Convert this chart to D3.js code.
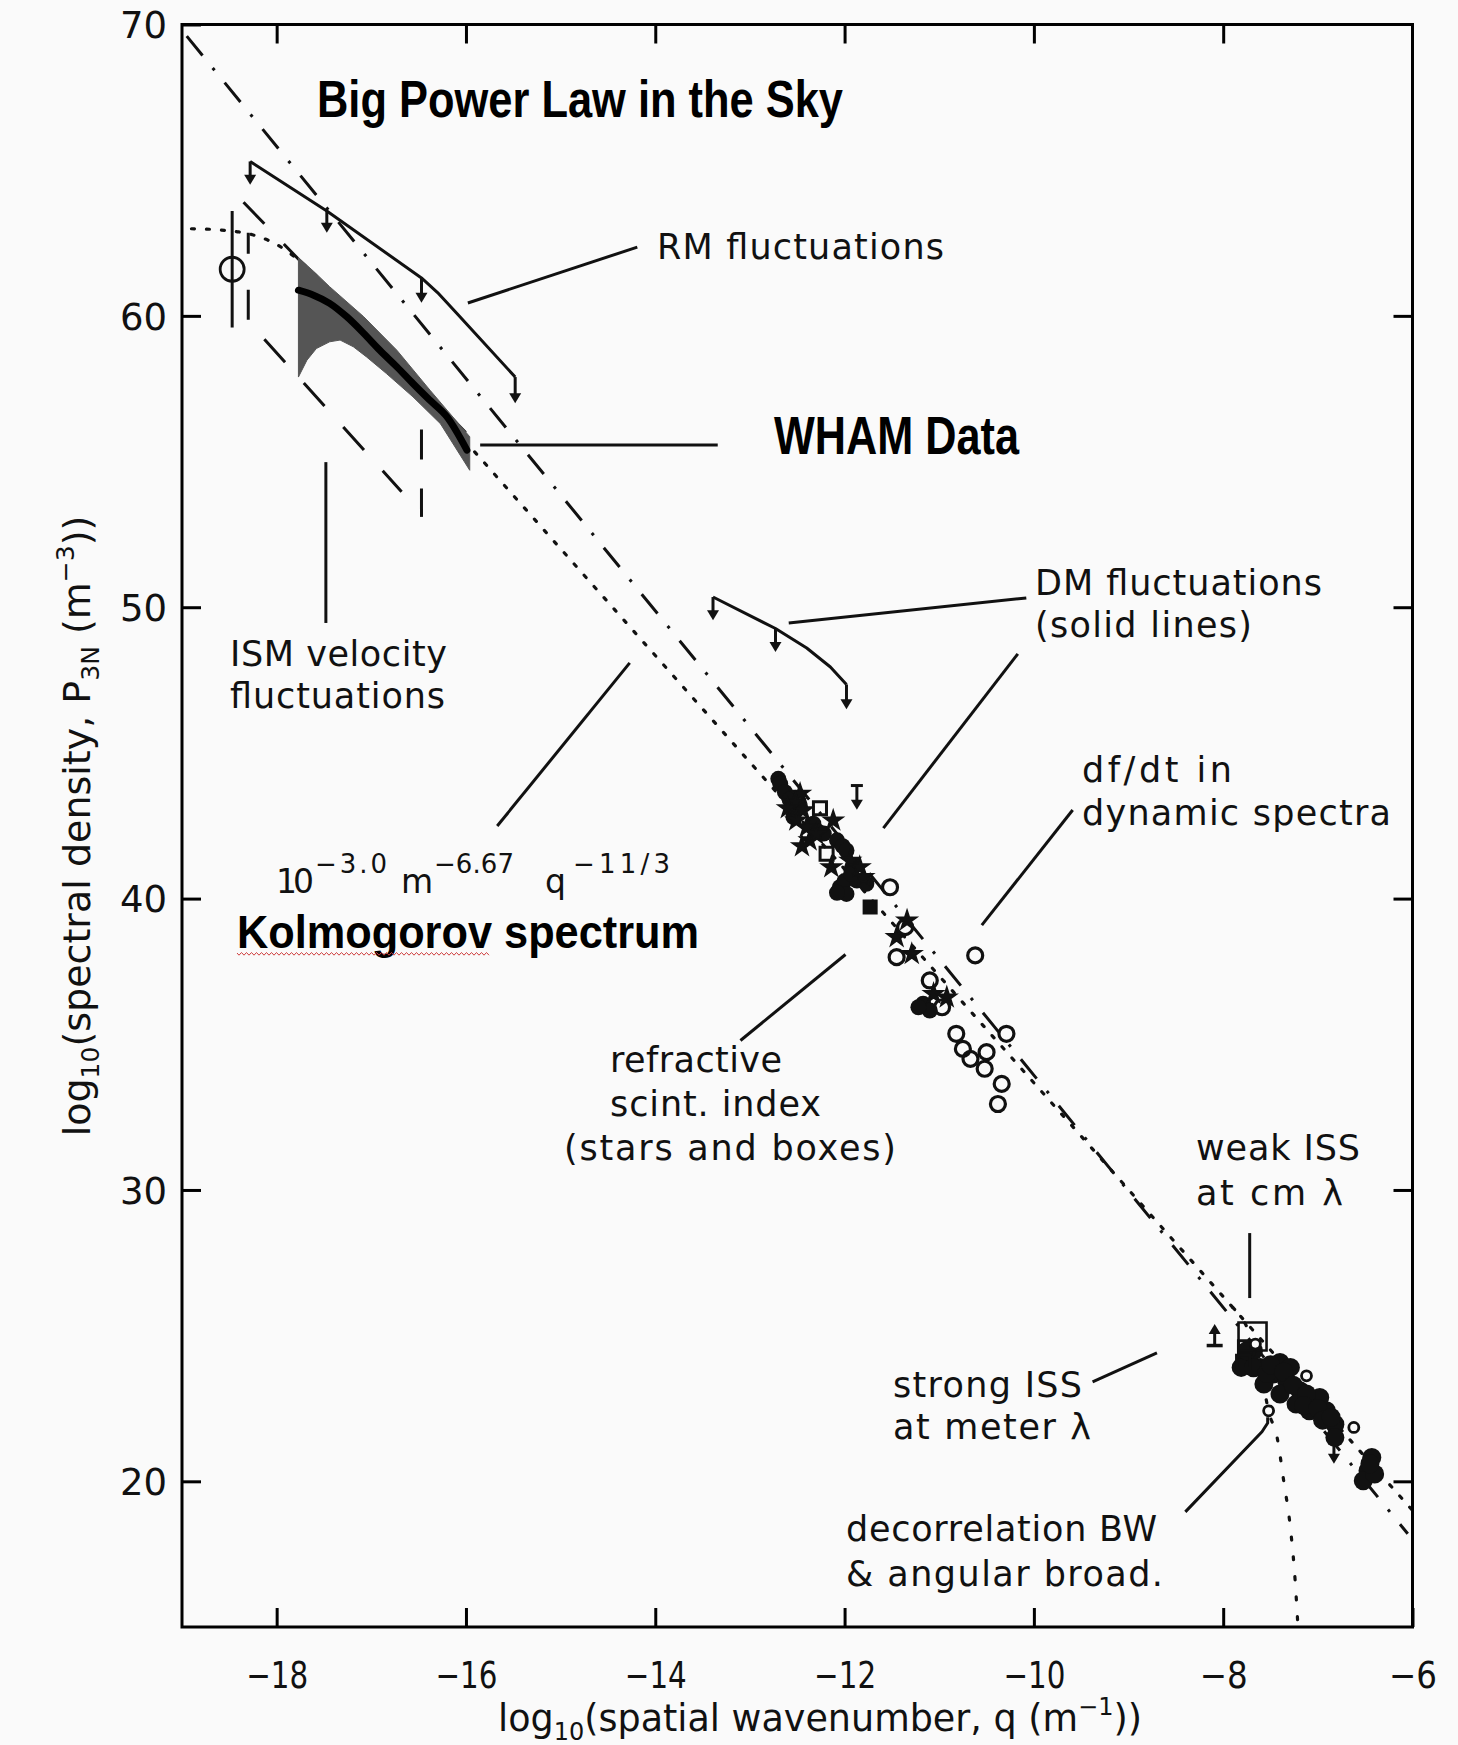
<!DOCTYPE html>
<html>
<head>
<meta charset="utf-8">
<script src="https://d3js.org/d3.v7.min.js"></script>
<style>
  html, body { margin:0; padding:0; background:#fafafa; }
  svg { display:block; }
  .hand { font-family: 'DejaVu Sans', 'Open Sans', sans-serif; fill:#111; }
  .bold { font-family: 'Liberation Sans Narrow','Arial Narrow','Liberation Sans',Arial,sans-serif; font-weight:bold; fill:#000; }
</style>
</head>
<body>
<svg id="chart" width="1458" height="1745" xmlns="http://www.w3.org/2000/svg"></svg>
<script>
// ---------------- DATA ----------------
const xTickValues = [-18, -16, -14, -12, -10, -8, -6];
const xTopTickValues = [-18, -16, -14, -12, -10, -8];
const yTickValues = [20, 30, 40, 50, 60, 70];
const yRightTickValues = [20, 30, 40, 50, 60];

// dash-dot power law across the whole plot
const dashDotLine = [[-18.95, 69.6], [-6.05, 18.2]];
// dashed line above the WHAM band
const dashedLine = [[-18.35, 63.9], [-15.96, 55.85]];
// dotted Kolmogorov spectrum with outer-scale roll-off
const kolmogorovCurve = [[-18.9, 62.99], [-18.6, 62.95], [-18.4, 62.88], [-18.2, 62.73], [-18.0, 62.45],
  [-17.8, 62.0], [-17.6, 61.42], [-17.4, 60.75], [-17.2, 60.05], [-17.0, 59.33], [-16.5, 57.5], [-6.0, 19.0]];
// dotted inner-scale cutoff branch
const innerScaleCurve = [[-7.9, 25.97], [-7.75, 25.3], [-7.65, 24.5], [-7.58, 23.4], [-7.52, 22.4],
  [-7.43, 21.5], [-7.36, 20.0], [-7.29, 18.4], [-7.24, 16.6], [-7.21, 15.0]];

// RM fluctuations (upper limits)
const rmCurve = [[-18.28, 65.3], [-17.47, 63.6], [-16.47, 61.3], [-16.3, 60.8], [-16.1, 60.1], [-15.48, 57.9]];
const rmLimits = [[-18.28, 65.3, 64.5], [-17.47, 63.6, 62.85], [-16.47, 61.3, 60.45], [-15.48, 57.9, 57.0]];
// DM fluctuations (upper limits)
const dmCurve = [[-13.39, 50.35], [-12.73, 49.27], [-12.4, 48.6], [-12.15, 47.95], [-11.98, 47.35]];
const dmLimits = [[-13.39, 50.35, 49.55], [-12.73, 49.27, 48.46], [-11.98, 47.35, 46.5]];

// WHAM data band
const whamUpper = [[-17.77, 62.0], [-17.6, 61.5], [-17.44, 61.0], [-17.08, 59.97], [-16.73, 58.82], [-16.38, 57.45], [-15.96, 55.85]];
const whamLower = [[-17.77, 57.9], [-17.68, 58.48], [-17.58, 58.88], [-17.44, 59.11], [-17.33, 59.17], [-17.19, 58.94],
  [-17.05, 58.59], [-16.84, 58.02], [-16.56, 57.22], [-16.27, 56.3], [-15.96, 54.7]];
const whamMean = [[-17.77, 60.88], [-17.61, 60.71], [-17.44, 60.43], [-17.26, 59.97], [-17.08, 59.4], [-16.91, 58.82],
  [-16.73, 58.25], [-16.56, 57.68], [-16.38, 57.1], [-16.2, 56.53], [-15.99, 55.39]];

// ISM velocity fluctuations
const ismPoint = [[-18.47, 61.6, 59.6, 63.6]];
const ismBoxLeft = [[-18.3, 62.85], [-18.3, 59.85]];
const ismBoxRight = [[-16.47, 56.1], [-16.47, 53.1]];
const ismBoxLower = [[-18.13, 59.2], [-16.68, 53.96]];

// scattered measurements
const openCircles = [[-11.52, 40.39], [-11.36, 39.02], [-11.45, 37.99], [-11.1, 37.19], [-10.97, 36.27], [-10.62, 38.05],
  [-10.82, 35.36], [-10.75, 34.84], [-10.67, 34.5], [-10.5, 34.73], [-10.52, 34.16], [-10.29, 35.36], [-10.34, 33.64], [-10.38, 32.95]];
const filledCircles = [[-12.7, 44.11], [-12.68, 43.94], [-12.63, 43.65], [-12.58, 43.4], [-12.47, 43.14], [-12.54, 42.8],
  [-12.33, 42.57], [-12.28, 42.3], [-12.22, 42.23], [-12.08, 42.0], [-12.02, 41.8], [-11.98, 41.65], [-11.91, 41.08],
  [-12.05, 40.39], [-12.0, 40.6], [-11.87, 40.62], [-11.77, 40.51], [-11.98, 40.16], [-12.08, 40.2], [-11.93, 40.85],
  [-11.17, 36.39], [-11.1, 36.16], [-11.22, 36.27]];
const stars = [[-12.47, 43.6], [-12.52, 43.31], [-12.44, 43.03], [-12.51, 42.68], [-12.4, 42.45], [-12.37, 42.0],
  [-12.12, 42.68], [-12.14, 41.08], [-11.94, 41.3], [-11.84, 41.08], [-11.8, 40.74], [-11.34, 39.25], [-11.45, 38.68],
  [-11.29, 38.1], [-11.06, 36.73], [-10.92, 36.61], [-12.6, 43.1], [-12.3, 42.2], [-12.45, 41.8]];
const openSquares = [[-12.26, 43.1], [-12.19, 41.54], [-7.77, 24.6], [-7.79, 24.1]];
const filledSquares = [[-11.73, 39.71]];
const weakIssBox = [[-7.69, 24.97]];
const strongIssPoints = [[-7.75, 24.25], [-7.61, 23.91], [-7.47, 23.68], [-7.33, 23.45], [-7.19, 23.11], [-7.05, 22.77],
  [-6.91, 22.42], [-6.82, 21.96], [-6.82, 21.5], [-7.68, 24.48], [-7.4, 24.08], [-7.29, 23.91], [-7.57, 23.34],
  [-7.4, 23.0], [-7.23, 22.65], [-7.09, 22.42], [-6.98, 22.88], [-7.81, 23.91], [-7.75, 24.48],
  [-7.68, 23.9], [-7.54, 23.7], [-7.5, 24.0], [-7.36, 23.75], [-7.26, 23.3], [-7.12, 23.0], [-7.15, 22.6],
  [-7.0, 22.5], [-6.95, 22.1], [-6.86, 22.2],
  [-6.43, 20.82], [-6.47, 20.36], [-6.52, 20.02], [-6.4, 20.25], [-6.45, 20.6]];
const smallOpenCircles = [[-7.12, 23.62], [-6.62, 21.85], [-7.52, 22.42], [-7.66, 24.71]];
const upperLimitMarks = [[-11.87, 43.88, 43.05], [-6.83, 21.4, 20.6]];
const lowerLimitMarks = [[-8.09, 24.66, 25.4]];

// annotation leader lines (data units)
const leaders = [
  [[-15.98, 60.44], [-14.19, 62.36]],              // RM
  [[-15.85, 55.57], [-13.34, 55.57]],              // WHAM
  [[-17.48, 54.98], [-17.48, 49.46]],              // ISM
  [[-14.27, 48.09], [-15.67, 42.49]],              // Kolmogorov
  [[-12.59, 49.46], [-10.08, 50.32]],              // DM 1
  [[-10.17, 48.40], [-11.59, 42.42]],              // DM 2
  [[-9.59, 43.04], [-10.55, 39.09]],               // df/dt
  [[-11.99, 38.08], [-13.10, 35.13]],              // refractive
  [[-7.72, 28.52], [-7.72, 26.29]],                // weak ISS
  [[-9.38, 23.41], [-8.70, 24.41]],                // strong ISS
  [[-8.40, 18.95], [-7.59, 21.70], [-7.53, 22.0], [-7.53, 22.2]] // decorrelation
];

// ---------------- DRAWING ----------------
const svg = d3.select('#chart');
svg.append('rect').attr('width', 1458).attr('height', 1745).attr('fill', '#fafafa');

const x = d3.scaleLinear().domain([-19, -6]).range([182, 1412.5]);
const y = d3.scaleLinear().domain([15, 70]).range([1627, 24.5]);
const line = d3.line().x(d => x(d[0])).y(d => y(d[1]));
const INK = '#111';

const g = svg.append('g');

function path(data, w, dash, curve) {
  const l = curve ? d3.line().x(d => x(d[0])).y(d => y(d[1])).curve(curve) : line;
  return g.append('path').attr('d', l(data)).attr('fill', 'none').attr('stroke', INK)
    .attr('stroke-width', w).attr('stroke-dasharray', dash || null).attr('stroke-linejoin', 'round');
}

// model lines
path(kolmogorovCurve, 3.2, '3,12', d3.curveMonotoneX).attr('stroke-linecap', 'round');
path(innerScaleCurve, 3.2, '3,17', d3.curveMonotoneX).attr('stroke-linecap', 'round');
path(dashDotLine, 3, '25,16,3,16');
path(dashedLine, 3, '30,28');

// ISM velocity box
path(ismBoxLeft, 3, '21,36,30');
path(ismBoxRight, 3, '30,29');
path(ismBoxLower, 3, '31,28');

// WHAM band
const bandPoly = whamUpper.concat(whamLower.slice().reverse());
g.append('path').attr('d', line(bandPoly) + 'Z').attr('fill', '#555').attr('stroke', '#555').attr('stroke-width', 1);
path(whamMean, 7, null, d3.curveMonotoneX).attr('stroke', '#000').attr('stroke-linecap', 'round');

// ISM point with error bar
g.selectAll('.ismbar').data(ismPoint).join('line')
  .attr('x1', d => x(d[0])).attr('x2', d => x(d[0])).attr('y1', d => y(d[2])).attr('y2', d => y(d[3]))
  .attr('stroke', INK).attr('stroke-width', 3);
g.selectAll('.ismc').data(ismPoint).join('circle')
  .attr('cx', d => x(d[0])).attr('cy', d => y(d[1])).attr('r', 12)
  .attr('fill', 'none').attr('stroke', INK).attr('stroke-width', 2.8);

// arrows
function downArrows(data) {
  data.forEach(d => {
    const px = x(d[0]), y1 = y(d[1]), y2 = y(d[2]);
    g.append('line').attr('x1', px).attr('x2', px).attr('y1', y1).attr('y2', y2 - 4)
      .attr('stroke', INK).attr('stroke-width', 3);
    g.append('path').attr('d', `M${px - 6},${y2 - 10}L${px + 6},${y2 - 10}L${px},${y2}Z`).attr('fill', INK);
  });
}
path(rmCurve, 3);
downArrows(rmLimits);
path(dmCurve, 3);
downArrows(dmLimits);

// upper-limit marks with a bar on top
upperLimitMarks.forEach(d => {
  const px = x(d[0]);
  g.append('line').attr('x1', px - 6).attr('x2', px + 6).attr('y1', y(d[1])).attr('y2', y(d[1])).attr('stroke', INK).attr('stroke-width', 3);
});
downArrows(upperLimitMarks);
// lower-limit marks with a bar at the bottom
lowerLimitMarks.forEach(d => {
  const px = x(d[0]), y1 = y(d[1]), y2 = y(d[2]);
  g.append('line').attr('x1', px - 8).attr('x2', px + 8).attr('y1', y1).attr('y2', y1).attr('stroke', INK).attr('stroke-width', 3.5);
  g.append('line').attr('x1', px).attr('x2', px).attr('y1', y1).attr('y2', y2 + 4).attr('stroke', INK).attr('stroke-width', 3);
  g.append('path').attr('d', `M${px - 6},${y2 + 10}L${px + 6},${y2 + 10}L${px},${y2}Z`).attr('fill', INK);
});

// scatter
g.selectAll('.fc').data(filledCircles).join('circle').attr('cx', d => x(d[0])).attr('cy', d => y(d[1])).attr('r', 8).attr('fill', INK);
g.selectAll('.sp').data(strongIssPoints).join('circle').attr('cx', d => x(d[0])).attr('cy', d => y(d[1])).attr('r', 9.5).attr('fill', INK);
const starSym = d3.symbol().type(d3.symbolStar).size(120);
g.selectAll('.st').data(stars).join('path').attr('d', starSym).attr('transform', d => `translate(${x(d[0])},${y(d[1])})`)
  .attr('fill', INK).attr('stroke', INK).attr('stroke-width', 1.5);
const sqSym = d3.symbol().type(d3.symbolSquare).size(170);
g.selectAll('.os').data(openSquares).join('path').attr('d', sqSym).attr('transform', d => `translate(${x(d[0])},${y(d[1])})`)
  .attr('fill', 'none').attr('stroke', INK).attr('stroke-width', 3);
g.selectAll('.fs').data(filledSquares).join('path').attr('d', sqSym).attr('transform', d => `translate(${x(d[0])},${y(d[1])})`)
  .attr('fill', INK).attr('stroke', INK).attr('stroke-width', 2);
const bigSq = d3.symbol().type(d3.symbolSquare).size(784);
g.selectAll('.bs').data(weakIssBox).join('path').attr('d', bigSq).attr('transform', d => `translate(${x(d[0])},${y(d[1])})`)
  .attr('fill', 'none').attr('stroke', INK).attr('stroke-width', 2.6);
g.selectAll('.oc').data(openCircles).join('circle').attr('cx', d => x(d[0])).attr('cy', d => y(d[1])).attr('r', 7.5)
  .attr('fill', 'none').attr('stroke', INK).attr('stroke-width', 3.2);
g.selectAll('.soc').data(smallOpenCircles).join('circle').attr('cx', d => x(d[0])).attr('cy', d => y(d[1])).attr('r', 5)
  .attr('fill', '#fafafa').attr('stroke', INK).attr('stroke-width', 2.8);

// leader lines
leaders.forEach(l => path(l, 3));

// ---------------- AXES / FRAME ----------------
const axes = svg.append('g');
axes.append('rect').attr('x', x(-19)).attr('y', y(70)).attr('width', x(-6) - x(-19)).attr('height', y(15) - y(70))
  .attr('fill', 'none').attr('stroke', '#000').attr('stroke-width', 3);

const fmt = d => (d < 0 ? '\u2212' + Math.abs(d) : String(d));
const axB = axes.append('g').attr('transform', `translate(0,${y(15)})`)
  .call(d3.axisBottom(x).tickValues(xTickValues).tickSizeInner(-19).tickSizeOuter(0).tickPadding(35).tickFormat(fmt));
const axL = axes.append('g').attr('transform', `translate(${x(-19)},0)`)
  .call(d3.axisLeft(y).tickValues(yTickValues).tickSizeInner(-19).tickSizeOuter(0).tickPadding(15).tickFormat(fmt));
const axT = axes.append('g').attr('transform', `translate(0,${y(70)})`)
  .call(d3.axisTop(x).tickValues(xTopTickValues).tickSizeInner(-19).tickSizeOuter(0).tickFormat(''));
const axR = axes.append('g').attr('transform', `translate(${x(-6)},0)`)
  .call(d3.axisRight(y).tickValues(yRightTickValues).tickSizeInner(-19).tickSizeOuter(0).tickFormat(''));
[axB, axL, axT, axR].forEach(a => {
  a.select('.domain').remove();
  a.selectAll('line').attr('stroke', '#000').attr('stroke-width', 3);
  a.selectAll('text').attr('font-family', "'DejaVu Sans', sans-serif").attr('font-size', 37).attr('fill', '#111');
});
axB.selectAll('text').attr('textLength', d => d > -10 ? 48 : 62).attr('lengthAdjust', 'spacingAndGlyphs');
axL.selectAll('text').attr('dy', '0.36em');

// axis titles
const xt = svg.append('text').attr('class', 'hand').attr('x', 820).attr('y', 1731).attr('text-anchor', 'middle').attr('font-size', 36.5);
xt.append('tspan').text('log');
xt.append('tspan').attr('font-size', 24).attr('dy', 9).text('10');
xt.append('tspan').attr('dy', -9).text('(spatial wavenumber, q (m');
xt.append('tspan').attr('font-size', 24).attr('dy', -16).text('\u22121');
xt.append('tspan').attr('dy', 16).text('))');

const yt = svg.append('text').attr('class', 'hand').attr('transform', 'translate(90,826) rotate(-90)')
  .attr('text-anchor', 'middle').attr('font-size', 38);
yt.append('tspan').text('log');
yt.append('tspan').attr('font-size', 25).attr('dy', 9).text('10');
yt.append('tspan').attr('dy', -9).text('(spectral density, P');
yt.append('tspan').attr('font-size', 25).attr('dy', 9).text('3N');
yt.append('tspan').attr('dy', -9).text(' (m');
yt.append('tspan').attr('font-size', 25).attr('dy', -16).text('\u22123');
yt.append('tspan').attr('dy', 16).text('))');

// ---------------- ANNOTATIONS ----------------
function hand(txt, px, py, w, size) {
  return svg.append('text').attr('class', 'hand').attr('x', px).attr('y', py).attr('font-size', size || 35)
    .attr('textLength', w).attr('lengthAdjust', 'spacing').text(txt);
}
hand('RM  fluctuations', 657, 259, 287);
hand('DM  fluctuations', 1035, 595, 287);
hand('(solid  lines)', 1035, 637, 217);
hand('df/dt  in', 1082, 782, 150);
hand('dynamic  spectra', 1082, 825, 309);
hand('ISM  velocity', 230, 666, 217);
hand('fluctuations', 230, 708, 215);
hand('refractive', 610, 1072, 172);
hand('scint.  index', 610, 1116, 211);
hand('(stars  and  boxes)', 564, 1160, 332);
hand('weak  ISS', 1196, 1160, 164);
hand('at  cm  \u03bb', 1196, 1205, 147);
hand('strong  ISS', 893, 1397, 189);
hand('at  meter  \u03bb', 893, 1439, 198);
hand('decorrelation  BW', 846, 1541, 311);
hand('&  angular  broad.', 846, 1586, 317);

// formula
hand('10', 276, 893, 38, 33);
hand('\u22123.0', 315, 873, 72, 26);
hand('m', 401, 893, 31, 33);
hand('\u22126.67', 434, 873, 80, 26);
hand('q', 545, 893, 26, 33);
hand('\u221211/3', 573, 873, 97, 26);

function bold(txt, px, py, w, size) {
  return svg.append('text').attr('class', 'bold').attr('x', px).attr('y', py).attr('font-size', size)
    .attr('textLength', w).attr('lengthAdjust', 'spacingAndGlyphs').text(txt);
}
bold('Big Power Law in the Sky', 317, 117, 526, 52);
bold('WHAM Data', 774, 454, 245, 53);
bold('Kolmogorov spectrum', 237, 948, 462, 47);

// red spell-check squiggle under "Kolmogorov"
let sq = 'M237,953';
for (let px = 239; px <= 490; px += 2.5) sq += `L${px},${953 + ((Math.round((px - 237) / 2.5) % 2) ? 2.2 : -0.5)}`;
svg.append('path').attr('d', sq).attr('fill', 'none').attr('stroke', '#d04040').attr('stroke-width', 1);
</script>
</body>
</html>
